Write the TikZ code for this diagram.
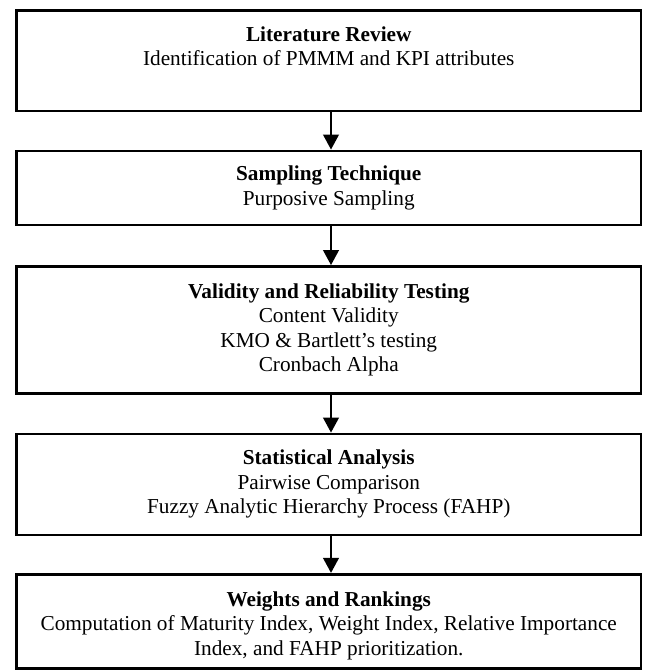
\documentclass[tikz,border=0pt]{standalone}
\usepackage{fontspec}
\setmainfont{Liberation Serif}
\usetikzlibrary{arrows.meta}
\begin{document}
\begin{tikzpicture}[x=0.5645pt,y=-0.5645pt,
  stepbox/.style={draw, line width=1.6pt, minimum width=352.5pt, inner sep=0pt,
    align=center, font=\fontsize{12}{13.8}\selectfont},
  flow/.style={line width=1.1pt, -{Triangle[width=8.9pt,length=8.5pt]}}]
\useasboundingbox (0,0) rectangle (646,670);
\node[stepbox, minimum height=56.7pt] (b1) at (328.75,60.75)
  {\strut\textbf{Literature Review}\\Identification of PMMM and KPI attributes\\\strut};
\node[stepbox, minimum height=41.8pt] (b2) at (328.75,188)
  {\strut\textbf{Sampling Technique}\\Purposive Sampling\strut};
\node[stepbox, minimum height=71.7pt] (b3) at (328.75,330)
  {\strut\textbf{Validity and Reliability Testing}\\Content Validity\\KMO \& Bartlett’s testing\\Cronbach Alpha\strut};
\node[stepbox, minimum height=57pt] (b4) at (328.75,484.5)
  {\strut\textbf{Statistical Analysis}\\Pairwise Comparison\\Fuzzy Analytic Hierarchy Process (FAHP)\strut};
\node[stepbox, minimum height=53.3pt] (b5) at (328.75,621.5)
  {\rule{0pt}{14.5pt}\textbf{Weights and Rankings}\\Computation of Maturity Index, Weight Index, Relative Importance\\Index, and FAHP prioritization.\strut};
\coordinate (ax) at (331,0);
\draw[flow] (b1.south -| ax) -- (b2.north -| ax);
\draw[flow] (b2.south -| ax) -- (b3.north -| ax);
\draw[flow] (b3.south -| ax) -- (b4.north -| ax);
\draw[flow] (b4.south -| ax) -- (b5.north -| ax);
\end{tikzpicture}
\end{document}
